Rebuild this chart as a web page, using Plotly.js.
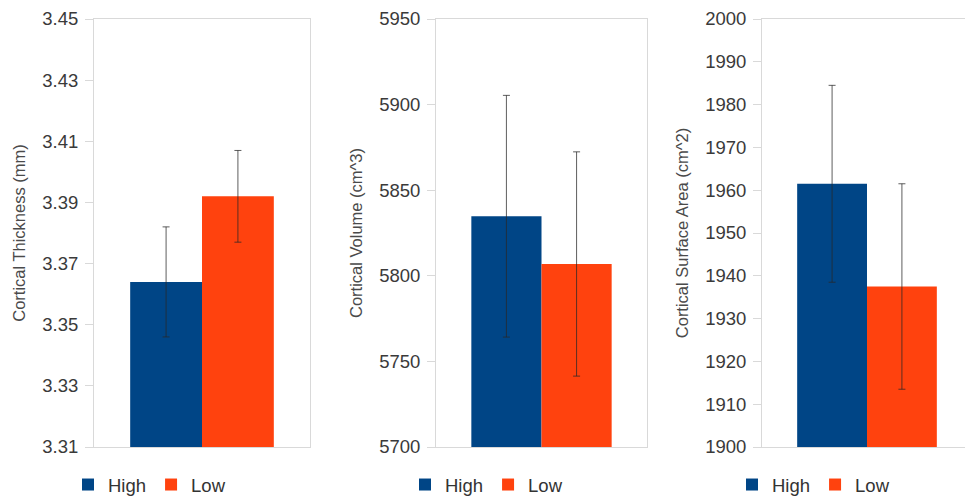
<!DOCTYPE html>
<html>
<head>
<meta charset="utf-8">
<script src="https://cdn.plot.ly/plotly-3.0.1.min.js"></script>
<style>html,body{margin:0;padding:0;background:#fff;}#chart{width:965px;height:497px;}</style>
</head>
<body>
<div id="chart"></div>
<script>
// Data
const groups = ["High", "Low"];
const thicknessMean = [3.364, 3.392];
const thicknessErr = [0.018, 0.015];
const volumeMean = [5834.8, 5806.9];
const volumeErr = [70.6, 65.5];
const areaMean = [1961.5, 1937.5];
const areaErr = [23.0, 24.0];
const yTitles = ["Cortical Thickness (mm)", "Cortical Volume (cm^3)", "Cortical Surface Area (cm^2)"];
const colors = ["#004586", "#ff420e"];

const panels = [
  {mean: thicknessMean, err: thicknessErr},
  {mean: volumeMean, err: volumeErr},
  {mean: areaMean, err: areaErr}
];

const traces = [];
panels.forEach((p, pi) => {
  groups.forEach((g, gi) => {
    traces.push({
      type: 'bar',
      name: g,
      x: [''],
      y: [p.mean[gi]],
      xaxis: pi === 0 ? 'x' : 'x' + (pi + 1),
      yaxis: pi === 0 ? 'y' : 'y' + (pi + 1),
      legend: pi === 0 ? 'legend' : 'legend' + (pi + 1),
      marker: {color: colors[gi], line: {width: 0}},
      error_y: {type: 'data', array: [p.err[gi]], visible: true, color: 'rgba(40,40,40,0.75)', thickness: 1, width: 3.5},
      hoverinfo: 'skip'
    });
  });
});

const W = 965, H = 497;
const yDom = [(H - 447) / H, 1 - 19 / H];
const frame = '#d9d9d9';
const FAM = 'Liberation Sans, Arial, sans-serif';
const tickFont = {family: FAM, size: 18.5, color: '#3a3a3a'};
const titleFont = {family: FAM, size: 16.5, color: '#4a4a4a'};

function xax(domain, range, mirror) {
  return {domain: domain, range: range, showticklabels: false, ticks: '', showgrid: false, zeroline: false,
          showline: true, linecolor: frame, linewidth: 1, mirror: mirror, fixedrange: true};
}
function yax(anchor, range, dtick, fmt, title, mirror) {
  return {anchor: anchor, domain: yDom, range: range, dtick: dtick, tick0: range[0], tickformat: fmt,
          ticks: 'outside', ticklen: 8, tickcolor: frame, showgrid: false, zeroline: false,
          showline: true, linecolor: frame, linewidth: 1, mirror: mirror, ticklabelstandoff: 3,
          tickfont: tickFont, title: {text: title, font: titleFont, standoff: 12}, automargin: false, fixedrange: true};
}

const legendBase = {orientation: 'h', yanchor: 'middle', y: (H - 485) / H, xanchor: 'left',
  font: {family: FAM, size: 18.5, color: '#333'}, bgcolor: 'rgba(0,0,0,0)',
  itemwidth: 30, tracegroupgap: 0, traceorder: 'normal'};

const layout = {
  width: W, height: H,
  margin: {l: 0, r: 0, t: 0, b: 0, autoexpand: false},
  paper_bgcolor: '#fff', plot_bgcolor: '#fff',
  barmode: 'group', bargap: 0.335, bargroupgap: 0,
  xaxis: xax([94 / W, 310 / W], [-0.5, 0.5], true),
  xaxis2: Object.assign(xax([436 / W, 647 / W], [-0.5, 0.5], true), {anchor: 'y2'}),
  xaxis3: Object.assign(xax([762 / W, 1], [-0.5, 0.5 - 7 / 210], 'allticks'), {anchor: 'y3'}),
  yaxis: yax('x', [3.31, 3.45], 0.02, '.2f', yTitles[0], true),
  yaxis2: yax('x2', [5700, 5950], 50, 'd', yTitles[1], true),
  yaxis3: yax('x3', [1900, 2000], 10, 'd', yTitles[2], false),
  legend: Object.assign({}, legendBase, {x: 68 / W}),
  legend2: Object.assign({}, legendBase, {x: 405 / W}),
  legend3: Object.assign({}, legendBase, {x: 732 / W}),
  showlegend: true
};

Plotly.newPlot('chart', traces, layout, {displayModeBar: false, staticPlot: true});
</script>
</body>
</html>
